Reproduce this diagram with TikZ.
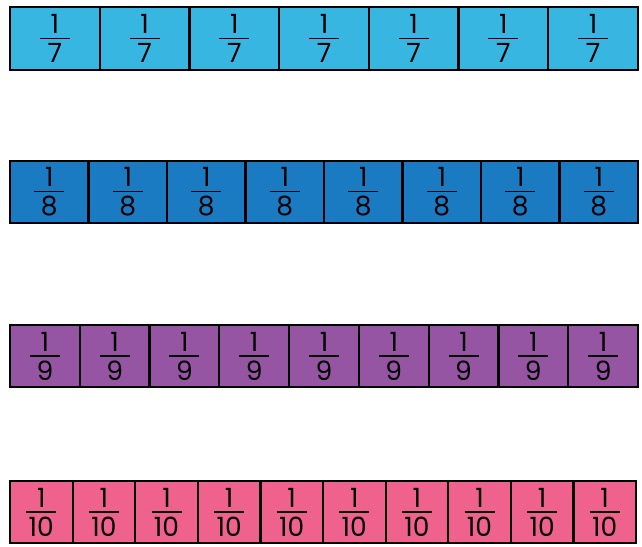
\documentclass[tikz,border=0pt]{standalone}
\usepackage{fontspec}
\setmainfont{Poppins}
\usetikzlibrary{positioning}
\definecolor{cseven}{HTML}{38B6E2}
\definecolor{ceight}{HTML}{1A7AC2}
\definecolor{cnine}{HTML}{9655A3}
\definecolor{cten}{HTML}{F0628E}
% unit fraction: 1 over #1 with a bar
\newcommand\unitfrac[1]{\vbox{\hbox to 30pt{\hss 1\hss}\kern4pt
  \hrule height 1.6pt\kern4pt\hbox to 30pt{\hss #1\hss}}}

\begin{document}
\begin{tikzpicture}[x=1pt,y=-1pt,
  cell/.style={draw=black,line width=2.2pt,inner sep=0pt,
               font=\fontsize{26.5}{28}\selectfont}]
\useasboundingbox (0,0) rectangle (642,546);
\foreach \n/\y/\h/\len/\col in {7/38.5/63/628/cseven,8/192/62/628/ceight,
    9/356/62/628/cnine,10/512/62/626/cten}{
  \pgfmathsetmacro\w{\len/\n}
  \foreach \i in {1,...,\n}{
    \node[cell,fill=\col,minimum width=\w pt,minimum height=\h pt]
      (r\n-\i) at ({10+(\i-0.5)*\w},\y) {\unitfrac{\n}};
  }
}
\end{tikzpicture}
\end{document}
